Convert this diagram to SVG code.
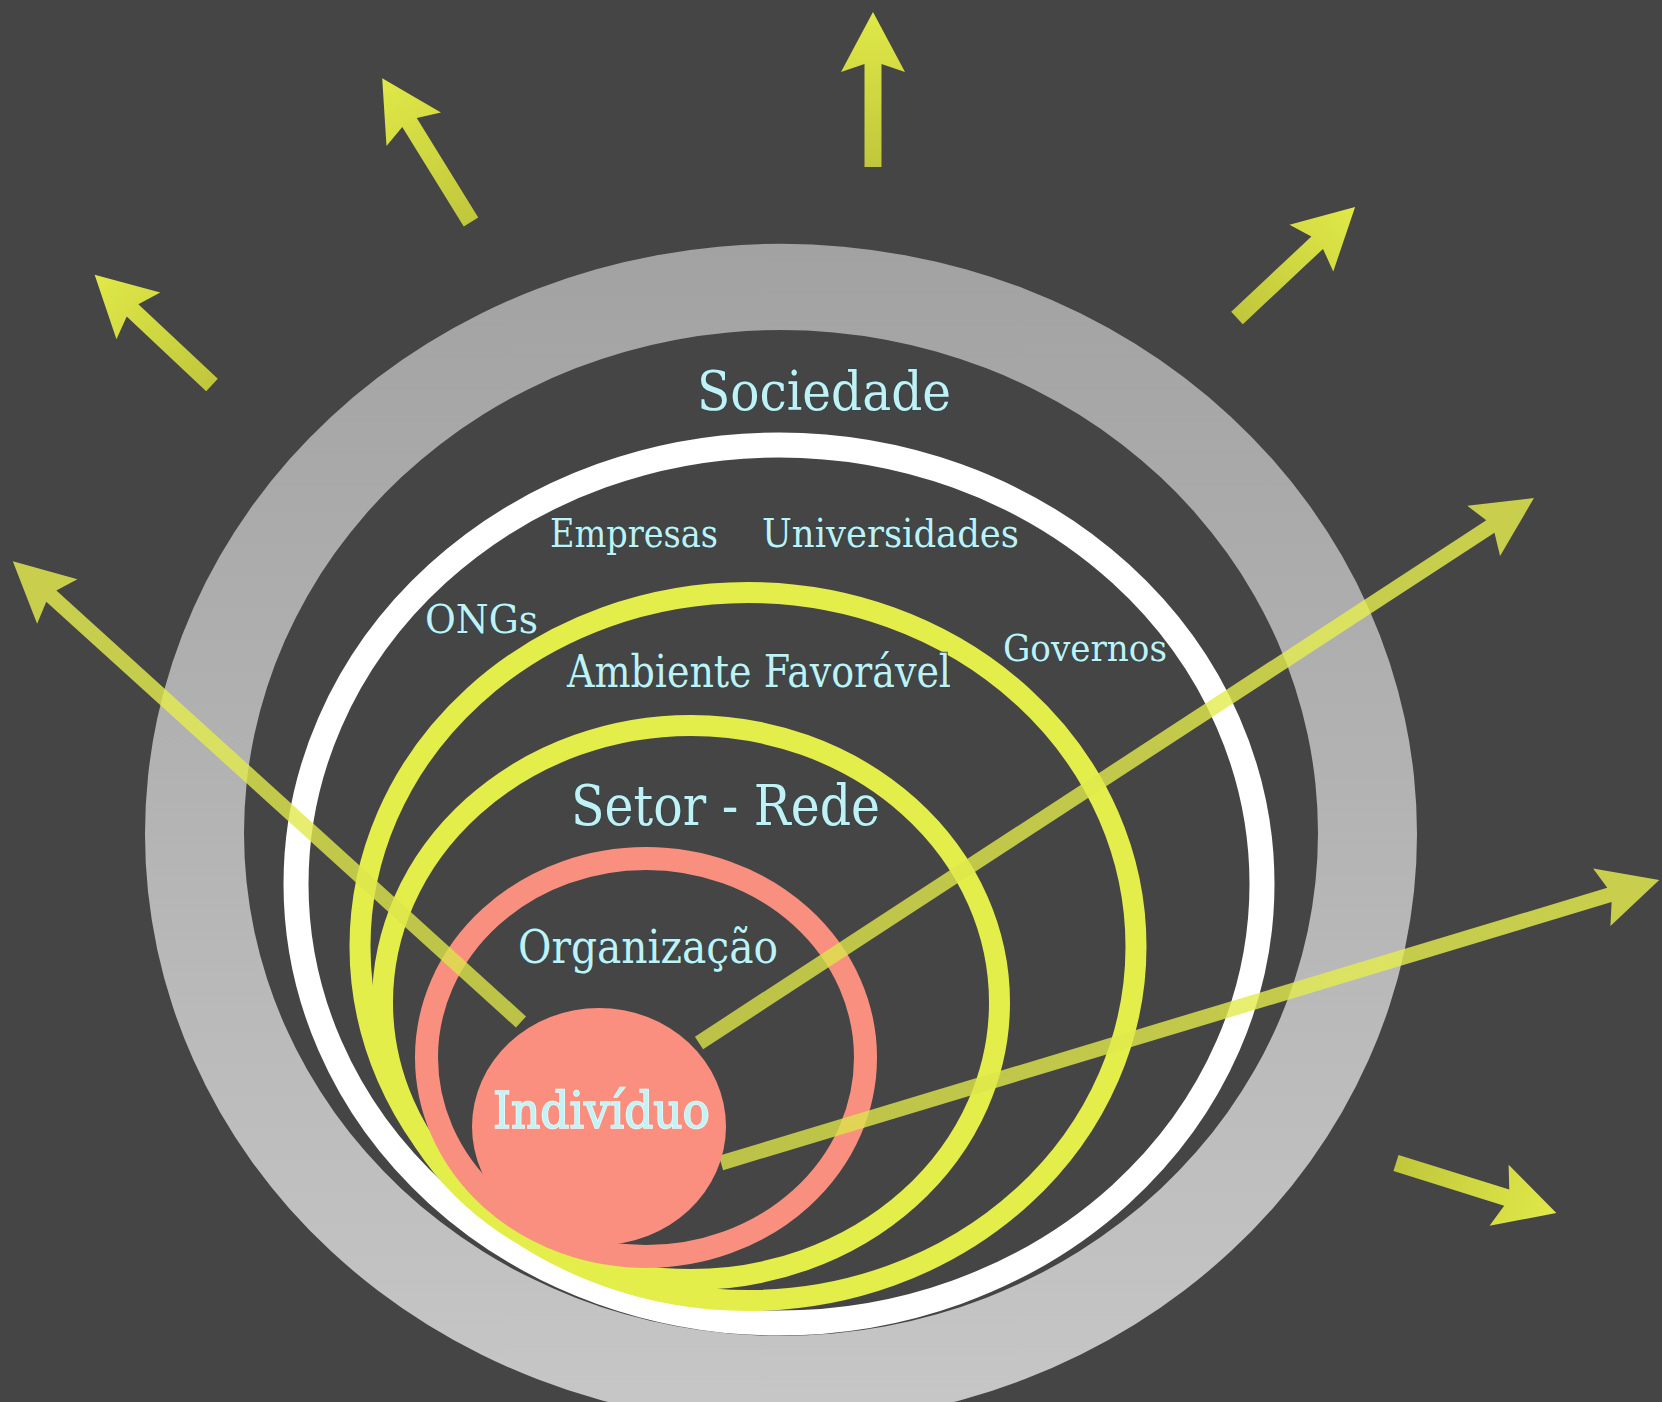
<svg xmlns="http://www.w3.org/2000/svg" width="1662" height="1402" viewBox="0 0 1662 1402">
<style>
.lbl{font-family:"DejaVu Serif Condensed","DejaVu Serif","Liberation Serif",serif;fill:#bff1f5;stroke:#34474a;stroke-width:2;paint-order:stroke;}
.ind{font-family:"DejaVu Serif Condensed","DejaVu Serif","Liberation Serif",serif;fill:#c3f3f4;stroke:#eafcfc;stroke-width:1.5;paint-order:stroke;}
.ring{fill:none;}
.short{fill:url(#gShort);}
.long{fill:url(#gLong);opacity:0.8;}
</style>
<defs>
<linearGradient id="gGray" gradientUnits="userSpaceOnUse" x1="0" y1="245" x2="0" y2="1400">
<stop offset="0" stop-color="#a2a2a2"/>
<stop offset="1" stop-color="#c6c6c6"/>
</linearGradient>
<linearGradient id="gShort" x1="0" y1="0" x2="1" y2="0">
<stop offset="0" stop-color="#c0c73c"/>
<stop offset="1" stop-color="#e0e947"/>
</linearGradient>
<linearGradient id="gLong" x1="0" y1="0" x2="1" y2="0">
<stop offset="0" stop-color="#d9e248"/>
<stop offset="1" stop-color="#eaf24f"/>
</linearGradient>
</defs>
<rect width="1662" height="1402" fill="#454545"/>

<g id="sociedade-ring">
<path fill="url(#gGray)" fill-rule="evenodd" d="M145,834 a636,590 0 1,0 1272,0 a636,590 0 1,0 -1272,0 Z M244,833 a537,503 0 1,0 1074,0 a537,503 0 1,0 -1074,0 Z"/>
</g>
<g id="atores-ring">
<ellipse class="ring" cx="779" cy="884" rx="483" ry="439" stroke="#ffffff" stroke-width="25"/>
</g>
<g id="ambiente-ring">
<ellipse class="ring" cx="748" cy="946.5" rx="388" ry="354" stroke="#e3ee4b" stroke-width="21"/>
</g>
<g id="setor-ring">
<ellipse class="ring" cx="691" cy="1002.5" rx="308.5" ry="277" stroke="#e3ee4b" stroke-width="21"/>
</g>
<g id="organizacao-ring">
<ellipse class="ring" cx="646" cy="1057.5" rx="219.5" ry="199" stroke="#f9907f" stroke-width="23"/>
</g>

<g id="connectors">
<path class="long" transform="translate(521,1022) rotate(-137.8)" d="M0,-7.5 L634,-7.5 L626,-30 L686,0 L626,30 L634,7.5 L0,7.5 Z"/>
<path class="long" transform="translate(699,1043) rotate(-33.13)" d="M0,-7.5 L945,-7.5 L937,-30 L997,0 L937,30 L945,7.5 L0,7.5 Z"/>
<path class="long" transform="translate(721,1163) rotate(-16.79)" d="M0,-7.5 L928,-7.5 L920,-30 L980,0 L920,30 L928,7.5 L0,7.5 Z"/>
<path class="short" transform="translate(873,167) rotate(-90)" d="M0,-8.5 L103,-8.5 L95,-32 L155,0 L95,32 L103,8.5 L0,8.5 Z"/>
<path class="short" transform="translate(471,222) rotate(-121.7)" d="M0,-8.5 L117,-8.5 L109,-32 L169,0 L109,32 L117,8.5 L0,8.5 Z"/>
<path class="short" transform="translate(212,385) rotate(-136.8)" d="M0,-8.5 L109,-8.5 L101,-32 L161,0 L101,32 L109,8.5 L0,8.5 Z"/>
<path class="short" transform="translate(1237,318) rotate(-43.2)" d="M0,-8.5 L110,-8.5 L102,-32 L162,0 L102,32 L110,8.5 L0,8.5 Z"/>
<path class="short" transform="translate(1396,1163) rotate(17.35)" d="M0,-8.5 L116,-8.5 L108,-32 L168,0 L108,32 L116,8.5 L0,8.5 Z"/>
</g>

<g id="individuo">
<ellipse cx="599" cy="1126.5" rx="127" ry="118.5" fill="#fa8f80"/>
<text class="ind" x="493" y="1128" font-size="50" textLength="217" lengthAdjust="spacingAndGlyphs">Indivíduo</text>
</g>

<g id="labels">
<text class="lbl" x="697" y="410" font-size="54" textLength="254" lengthAdjust="spacingAndGlyphs">Sociedade</text>
<text class="lbl" x="550" y="547" font-size="39" textLength="168" lengthAdjust="spacingAndGlyphs">Empresas</text>
<text class="lbl" x="762" y="547" font-size="39" textLength="257" lengthAdjust="spacingAndGlyphs">Universidades</text>
<text class="lbl" x="425" y="633" font-size="40" textLength="113" lengthAdjust="spacingAndGlyphs">ONGs</text>
<text class="lbl" x="567" y="687" font-size="44" textLength="384" lengthAdjust="spacingAndGlyphs">Ambiente Favorável</text>
<text class="lbl" x="1003" y="661" font-size="38" textLength="164" lengthAdjust="spacingAndGlyphs">Governos</text>
<text class="lbl" x="571" y="825" font-size="56" textLength="309" lengthAdjust="spacingAndGlyphs">Setor - Rede</text>
<text class="lbl" x="518" y="963" font-size="46" textLength="260" lengthAdjust="spacingAndGlyphs">Organização</text>
</g>
</svg>
